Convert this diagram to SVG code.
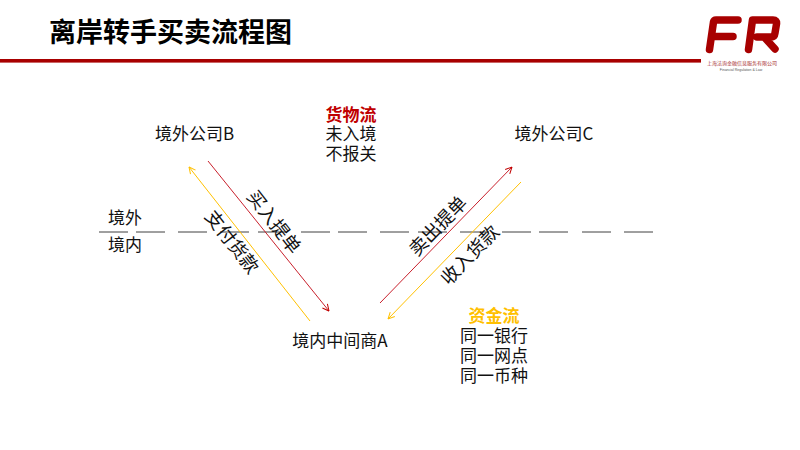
<svg xmlns="http://www.w3.org/2000/svg" width="800" height="450" viewBox="0 0 800 450">
<defs>
<marker id="ar" viewBox="0 0 8 8" refX="7.5" refY="4" markerWidth="8" markerHeight="8" markerUnits="userSpaceOnUse" orient="auto"><path d="M1 0.8L7.5 4L1 7.2" fill="none" stroke="#c00000" stroke-width="1"/></marker>
<marker id="ay" viewBox="0 0 8 8" refX="7.5" refY="4" markerWidth="8" markerHeight="8" markerUnits="userSpaceOnUse" orient="auto"><path d="M1 0.8L7.5 4L1 7.2" fill="none" stroke="#ffc000" stroke-width="1"/></marker>
</defs>
<style>
text{font-family:"Noto Sans CJK SC","Liberation Sans",sans-serif;font-size:17px;fill:#111}
.c{text-anchor:middle}
.b{font-weight:700}
.rot{font-size:18.500px}
.red{stroke:#c8202c;stroke-width:1;fill:none;marker-end:url(#ar)}
.yel{stroke:#ffc000;stroke-width:1;fill:none;marker-end:url(#ay)}
.dash{stroke:#404040;stroke-width:1;fill:none}
</style>
<rect width="800" height="450" fill="#fff"/>
<g id="header">
<rect x="0" y="59" width="701" height="3.6" fill="#a80000"/>
<text x="49" y="42" style="font-size:27px;font-weight:700;fill:#000">离岸转手买卖流程图</text>
</g>
<g id="logo">
<path d="M709.500 49.500L713.500 22Q714 20 716 20L738 20M715 36.500L733 36.500" fill="none" stroke="#a80000" stroke-width="7.500" stroke-linecap="round" stroke-linejoin="round"/>
<path d="M748.500 49.500L752.500 20L773 20Q777 20 776.500 24L775 33Q774.500 37 771 37L757 37M765 38L775 49" fill="none" stroke="#a80000" stroke-width="7.500" stroke-linecap="round" stroke-linejoin="round"/>
<text x="742" y="65" class="c" style="font-size:5px;fill:#a83030">上海法询金融信息服务有限公司</text>
<text x="741" y="71" class="c" style="font-size:3.500px;fill:#555;font-family:'Liberation Sans',sans-serif">Financial Regulation &amp; Law</text>
</g>
<g id="connectors">
<path class="dash" d="M99 232h29M136 232h29M178 232h29M220 232h29M258 232h29M301 232h29M338 232h29M380 232h29M418 232h29M460 232h29M502 232h29M539 232h29M582 232h29M624 232h29"/>
<line class="red" x1="208" y1="161" x2="329" y2="311"/>
<line class="yel" x1="310" y1="321" x2="189" y2="167"/>
<line class="red" x1="380" y1="303" x2="512" y2="167"/>
<line class="yel" x1="521" y1="182" x2="388" y2="319"/>
</g>
<g id="node-b"><text x="194.500" y="139.500" class="c">境外公司B</text></g>
<g id="node-c"><text x="554" y="139.500" class="c">境外公司C</text></g>
<g id="node-a"><text x="340" y="346.500" class="c">境内中间商A</text></g>
<g id="note-goods">
<text x="351" y="120.500" class="c b" style="fill:#c00000">货物流</text>
<text x="351" y="140" class="c">未入境</text>
<text x="351" y="160" class="c">不报关</text>
</g>
<g id="note-funds">
<text x="494" y="322" class="c b" style="fill:#ffc000">资金流</text>
<text x="494" y="342" class="c">同一银行</text>
<text x="494" y="362" class="c">同一网点</text>
<text x="494" y="382" class="c">同一币种</text>
</g>
<g id="zones">
<text x="125" y="224" class="c">境外</text>
<text x="125" y="251" class="c">境内</text>
</g>
<g id="edge-labels">
<text class="c rot" transform="translate(274 222) rotate(52) translate(0 6.500)">买入提单</text>
<text class="c rot" transform="translate(232 242) rotate(52) translate(0 6.500)">支付货款</text>
<text class="c rot" transform="translate(438 226) rotate(-46) translate(0 6.500)">卖出提单</text>
<text class="c rot" transform="translate(470 255) rotate(-46) translate(0 6.500)">收入货款</text>
</g>
</svg>
